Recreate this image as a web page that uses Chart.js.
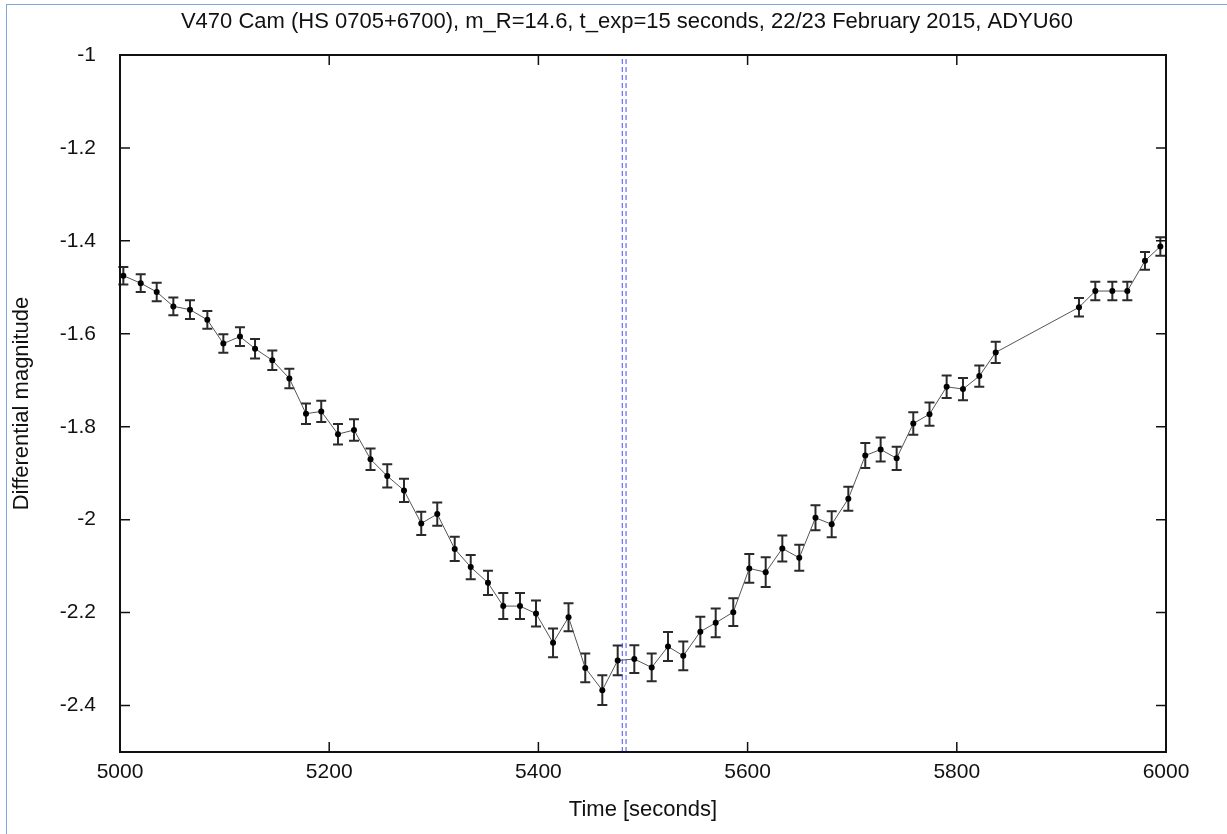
<!DOCTYPE html>
<html>
<head>
<meta charset="utf-8">
<script src="https://cdn.jsdelivr.net/npm/chart.js@4.4.1/dist/chart.umd.min.js"></script>
<style>
  html, body { margin: 0; padding: 0; background: #fff; }
  #wrap { position: relative; width: 1227px; height: 834px; }
  #frame { position: absolute; left: 6px; top: 4px; right: 0; bottom: 0;
           border-left: 1px solid #7ea6d8; border-top: 1px solid #7ea6d8; pointer-events: none; }
</style>
</head>
<body>
<div id="wrap">
  <canvas id="chart" width="1227" height="834"></canvas>
  <div id="frame"></div>
</div>
<script>
const titleText = 'V470 Cam (HS 0705+6700), m_R=14.6, t_exp=15 seconds, 22/23 February 2015, ADYU60';

const times = [
    5003.2, 5019.8, 5035.1, 5051.0, 5066.9, 5083.5, 5098.8, 5114.7, 5129.1, 5145.6,
    5161.9, 5177.8, 5192.4, 5208.4, 5223.7, 5239.5, 5255.5, 5271.5, 5288.0, 5303.3,
    5320.0, 5335.3, 5351.8, 5366.4, 5382.4, 5397.7, 5414.0, 5428.8, 5444.8, 5461.1,
    5475.8, 5491.7, 5508.3, 5523.9, 5538.5, 5554.8, 5569.5, 5586.3, 5601.6, 5617.3,
    5633.2, 5649.4, 5664.9, 5680.4, 5696.3, 5712.5, 5727.2, 5742.5, 5758.4, 5773.9,
    5790.3, 5805.9, 5821.5, 5837.2, 5916.8, 5932.4, 5948.7, 5963.0, 5979.9, 5994.6
];

const magnitudes = [
    -1.475, -1.491, -1.510, -1.541, -1.548, -1.570, -1.621, -1.606, -1.632, -1.657,
    -1.696, -1.772, -1.767, -1.816, -1.807, -1.870, -1.906, -1.937, -2.008, -1.988,
    -2.063, -2.102, -2.136, -2.186, -2.186, -2.202, -2.265, -2.210, -2.319, -2.367,
    -2.303, -2.300, -2.318, -2.273, -2.293, -2.241, -2.222, -2.199, -2.105, -2.113,
    -2.062, -2.082, -1.996, -2.010, -1.955, -1.862, -1.849, -1.868, -1.793, -1.773,
    -1.714, -1.719, -1.691, -1.640, -1.543, -1.508, -1.508, -1.508, -1.443, -1.412
];

const errors = [
    0.019, 0.019, 0.020, 0.019, 0.020, 0.019, 0.020, 0.020, 0.021, 0.021,
    0.021, 0.022, 0.023, 0.022, 0.023, 0.023, 0.025, 0.025, 0.025, 0.025,
    0.026, 0.026, 0.026, 0.028, 0.028, 0.028, 0.031, 0.030, 0.031, 0.032,
    0.032, 0.030, 0.030, 0.031, 0.031, 0.032, 0.031, 0.030, 0.031, 0.032,
    0.028, 0.028, 0.027, 0.028, 0.026, 0.027, 0.026, 0.025, 0.024, 0.025,
    0.024, 0.024, 0.023, 0.023, 0.020, 0.020, 0.020, 0.020, 0.019, 0.020
];

// predicted mid-eclipse window (dashed blue lines)
const eclipseLines = [5480.2, 5483.8];

const xTicks = [5000, 5200, 5400, 5600, 5800, 6000];
const yTicks = [-1, -1.2, -1.4, -1.6, -1.8, -2, -2.2, -2.4];

const FONT = '"Liberation Sans", Arial, Helvetica, sans-serif';

var pointData = [];
times.forEach((t, i) => {
    pointData.push({ x: t, y: magnitudes[i] });
});

var datasets = [{
    label: 'V470 Cam',
    data: pointData,
    borderColor: '#555',
    borderWidth: 1,
    pointRadius: 3,
    pointBackgroundColor: '#000',
    pointBorderColor: '#000',
    pointBorderWidth: 0,
    showLine: true,
    order: 1
}];
eclipseLines.forEach(t => {
    datasets.push({
        label: 'eclipse',
        data: [{ x: t, y: -2.5 }, { x: t, y: -1 }],
        borderColor: '#4a4aff',
        borderWidth: 1,
        borderDash: [5, 3],
        pointRadius: 0,
        showLine: true,
        order: 2
    });
});

const plotDecor = {
    id: 'plotDecor',
    beforeDatasetsDraw(chart) {
        const ctx = chart.ctx;
        const xs = chart.scales.x, ys = chart.scales.y;
        ctx.save();
        ctx.strokeStyle = '#2a2a2a';
        ctx.lineWidth = 2;
        times.forEach((t, i) => {
            const px = xs.getPixelForValue(t);
            const top = ys.getPixelForValue(magnitudes[i] + errors[i]);
            const bot = ys.getPixelForValue(magnitudes[i] - errors[i]);
            ctx.beginPath();
            ctx.moveTo(px, top); ctx.lineTo(px, bot);
            ctx.moveTo(px - 5, top); ctx.lineTo(px + 5, top);
            ctx.moveTo(px - 5, bot); ctx.lineTo(px + 5, bot);
            ctx.stroke();
        });
        ctx.restore();
    },
    afterDraw(chart) {
        const ctx = chart.ctx;
        const a = chart.chartArea;
        const xs = chart.scales.x, ys = chart.scales.y;
        ctx.save();
        ctx.strokeStyle = '#111';
        ctx.lineWidth = 1.5;
        ctx.beginPath();
        xTicks.forEach(v => {
            const px = xs.getPixelForValue(v);
            ctx.moveTo(px, a.bottom); ctx.lineTo(px, a.bottom - 10);
            ctx.moveTo(px, a.top); ctx.lineTo(px, a.top + 10);
        });
        yTicks.forEach(v => {
            const py = ys.getPixelForValue(v);
            ctx.moveTo(a.left, py); ctx.lineTo(a.left + 10, py);
            ctx.moveTo(a.right, py); ctx.lineTo(a.right - 10, py);
        });
        ctx.stroke();
        ctx.lineWidth = 2;
        ctx.strokeRect(a.left, a.top, a.right - a.left, a.bottom - a.top);

        ctx.fillStyle = '#111';
        ctx.font = '22px ' + FONT;
        ctx.textAlign = 'center';
        ctx.textBaseline = 'middle';
        ctx.fillText(titleText, 627, 22);
        ctx.restore();
    }
};

const config = {
    type: 'scatter',
    data: { datasets: datasets },
    options: {
        responsive: false,
        animation: false,
        layout: { padding: { top: 55, right: 61, left: 0, bottom: 0 } },
        plugins: {
            legend: { display: false },
            title: { display: false },
            tooltip: { enabled: false }
        },
        scales: {
            x: {
                type: 'linear',
                position: 'bottom',
                min: 5000,
                max: 6000,
                afterFit: s => { s.height = 82; },
                afterBuildTicks: s => { s.ticks = xTicks.map(v => ({ value: v })); },
                grid: { display: false, drawTicks: false },
                border: { display: false },
                ticks: { color: '#111', padding: 8, font: { family: FONT, size: 21 },
                         callback: v => String(v) },
                title: { display: true, text: 'Time [seconds]', color: '#111',
                         padding: { top: 0, bottom: 11 }, font: { family: FONT, size: 22 } }
            },
            y: {
                type: 'linear',
                min: -2.5,
                max: -1,
                afterFit: s => { s.width = 120; },
                afterBuildTicks: s => { s.ticks = yTicks.map(v => ({ value: v })); },
                grid: { display: false, drawTicks: false },
                border: { display: false },
                ticks: { color: '#111', padding: 24, font: { family: FONT, size: 21 },
                         callback: v => String(v) },
                title: { display: true, text: 'Differential magnitude', color: '#111',
                         padding: { top: 9, bottom: 0 }, font: { family: FONT, size: 22 } }
            }
        }
    },
    plugins: [plotDecor]
};

new Chart(document.getElementById('chart'), config);
</script>
</body>
</html>
